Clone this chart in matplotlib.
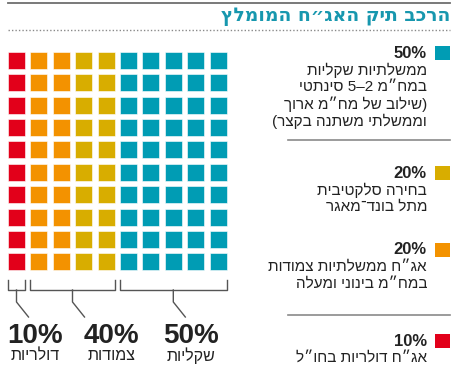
import re
import matplotlib
matplotlib.use('Agg')
import matplotlib.pyplot as plt
from matplotlib.patches import Rectangle

plt.rcParams['font.family'] = ['Liberation Sans', 'DejaVu Sans']

# Data (logical Hebrew order, reversed for display below)
title = 'הרכב תיק האג״ח המומלץ'
shares = [10, 20, 20, 50]                     # red, orange, gold, teal (waffle order, left to right)
colors = ['#E2001A', '#F39200', '#D8AD00', '#009CB4']

group_pct = ['10%', '40%', '50%']
group_names = ['דולריות', 'צמודות', 'שקליות']
group_cols = [(0, 0), (1, 4), (5, 9)]         # first/last waffle column of each bracket

legend_pct = ['50%', '20%', '20%', '10%']
legend_colors = ['#009CB4', '#D8AD00', '#F39200', '#E2001A']
legend_text = [
    ['ממשלתיות שקליות', 'במח״מ 2–5 סינתטי', '(שילוב של מח״מ ארוך', 'וממשלתי משתנה בקצר)'],
    ['בחירה סלקטיבית', 'מתל בונד־מאגר'],
    ['אג״ח ממשלתיות צמודות', 'במח״מ בינוני ומעלה'],
    ['אג״ח דולריות בחו״ל'],
]

MIRROR = {'(': ')', ')': '('}


def rtl(s):
    # matplotlib has no bidi support: build the visual order by hand
    r = ''.join(MIRROR.get(c, c) for c in s[::-1])
    return re.sub(r'[0-9]+', lambda m: m.group(0)[::-1], r)


fig = plt.figure(figsize=(4.58, 3.8), dpi=100)
ax = fig.add_axes([0, 0, 1, 1])
ax.set_xlim(0, 458)
ax.set_ylim(380, 0)
ax.axis('off')

dark = '#222222'
grey = '#8a8a8a'

# header
ax.plot([8, 450], [3, 3], color='#6e6e6e', lw=1.3)
ax.text(450, 16, rtl(title), ha='right', va='center', fontsize=13.5,
        fontweight='bold', color='#1797AE', family=['DejaVu Sans'])
ax.plot([8, 450], [30, 30], color=grey, lw=1, ls=(0, (1, 1.5)))

# waffle, 10x10, filled column by column
x0, y0, pitch, size = 8, 51.7, 22.4, 17
cell = 0
for share, col in zip(shares, colors):
    for _ in range(share):
        c, r = divmod(cell, 10)
        ax.add_patch(Rectangle((x0 + c * pitch, y0 + r * pitch), size, size,
                               facecolor=col, edgecolor='white', lw=0.4))
        cell += 1

# brackets + labels
label_dx = [19, 39, 18]
for (c0, c1), pct, name, dx in zip(group_cols, group_pct, group_names, label_dx):
    left = x0 + c0 * pitch
    right = x0 + c1 * pitch + size
    mid = (left + right) / 2
    ax.plot([left, left, right, right], [280, 290, 290, 280], color='#555555', lw=1)
    ax.plot([mid, mid, mid + 12], [290, 302, 317], color='#555555', lw=1)
    ax.text(mid + dx, 336, pct, ha='center', va='center', fontsize=20,
            fontweight='bold', color=dark)
    ax.text(mid + dx, 356, rtl(name), ha='center', va='center', fontsize=11.5,
            color=dark)

# legend on the right
pct_y = [53, 173, 250, 341]
for pct, col, lines, y in zip(legend_pct, legend_colors, legend_text, pct_y):
    ax.add_patch(Rectangle((435, y - 7), 15, 14, facecolor=col, edgecolor='none'))
    ax.text(427, y, pct, ha='right', va='center', fontsize=12,
            fontweight='bold', color=dark)
    for i, line in enumerate(lines):
        ax.text(427, y + 17 + 17 * i, rtl(line), ha='right', va='center',
                fontsize=11, color=dark)

for y in [140, 315]:
    ax.plot([288, 450], [y, y], color=grey, lw=1.2)

fig.savefig('out.png', dpi=100)
